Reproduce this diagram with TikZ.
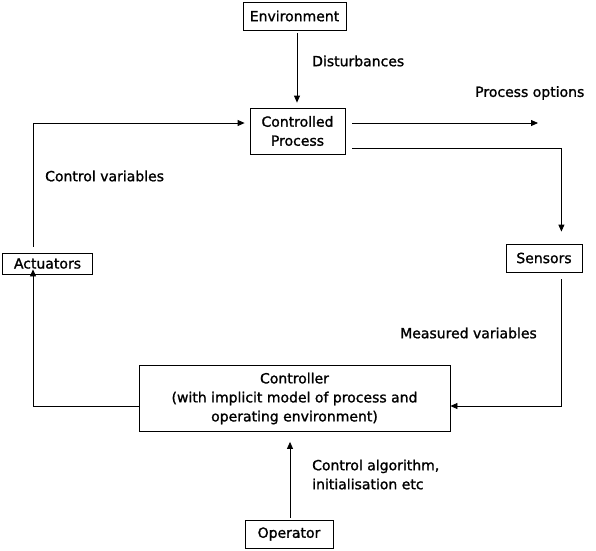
\documentclass[tikz,border=0pt]{standalone}
\usepackage{fontspec}
\setmainfont{DejaVu Sans}[BoldFont={DejaVu Sans},BoldFeatures={FakeBold=1.3}]
\usetikzlibrary{arrows.meta}
\begin{document}
\begin{tikzpicture}[x=1pt,y=-1pt,
  box/.style={draw,line width=0.8pt,inner sep=0pt,align=center},
  lbl/.style={anchor=west,inner sep=0pt,align=left},
  conn/.style={line width=0.8pt},
  arr/.style={conn,-{Triangle[length=7pt,width=6pt]}},
  every node/.style={font=\fontsize{14}{19}\selectfont\bfseries}]
\useasboundingbox (0,0) rectangle (596,550);
\node[box,minimum width=103pt,minimum height=28pt] (env) at (294.5,16) {Environment};
\node[box,minimum width=95pt,minimum height=46pt] (cp) at (297.5,131) {Controlled\\Process};
\node[box,minimum width=90pt,minimum height=21pt] (act) at (47.5,263.5) {Actuators};
\node[box,minimum width=76pt,minimum height=28pt] (sens) at (544,258) {Sensors};
\node[box,minimum width=311pt,minimum height=66pt] (ctrl) at (294.5,398.5) {Controller\\(with implicit model of process and\\operating environment)};
\node[box,minimum width=88pt,minimum height=28pt] (op) at (289,534) {Operator};

\node[lbl] (dist) at (312,61) {Disturbances};
\node[lbl] (popt) at (475,93) {Process options};
\node[lbl] (cvar) at (45,176) {Control variables};
\node[lbl] (mvar) at (400,333) {Measured variables};
\node[lbl] (calg) at (312,474.5) {Control algorithm,\\initialisation etc};

\coordinate (popend) at (538,123);

\draw[arr,shorten <=3pt,shorten >=5pt] ([xshift=2.5pt]env.south) -- ([xshift=-0.5pt]cp.north);
\draw[arr,shorten <=7pt] ([yshift=8pt]cp.east) -- (popend);
\draw[arr,shorten <=7pt,shorten >=12pt] ([yshift=-17pt]cp.east) -| ([xshift=-21pt]sens.north east);
\draw[arr,shorten <=7pt] ([xshift=-21pt]sens.south east) |- ([yshift=-7.5pt]ctrl.east);
\draw[arr] ([yshift=-7.5pt]ctrl.west) -| ([xshift=-14.5pt,yshift=5pt]act.south);
\draw[arr,shorten <=6pt,shorten >=5pt] ([xshift=-14.5pt]act.north) |- ([yshift=8pt]cp.west);
\draw[arr,shorten <=2pt,shorten >=10pt] ([xshift=1pt]op.north) -- ([xshift=-4.5pt]ctrl.south);
\end{tikzpicture}
\end{document}
